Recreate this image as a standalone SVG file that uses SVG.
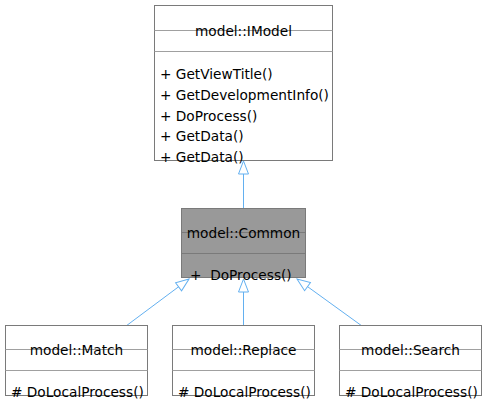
<svg xmlns="http://www.w3.org/2000/svg" width="486" height="400" viewBox="0 0 486 400">
<defs>
<style>
.box{fill:#ffffff;stroke:#7a7a7a;stroke-width:1}
.gbox{fill:#999999;stroke:#7a7a7a;stroke-width:1}
.sep{stroke:#a0a0a0;stroke-width:1;fill:none}
.gsep{stroke:#7a7a7a;stroke-width:1;fill:none}
text{font-family:"DejaVu Sans",Verdana,sans-serif;font-size:13.7px;fill:#000000}
.t{text-anchor:middle}
.edge{stroke:#63b0f0;stroke-width:1;fill:none;marker-end:url(#tri)}
</style>
<marker id="tri" markerUnits="userSpaceOnUse" markerWidth="16" markerHeight="12" viewBox="-14 -6 16 12" refX="0" refY="0" orient="auto">
<path d="M0,0 L-13,-5 L-13,5 Z" fill="#ffffff" stroke="#63b0f0" stroke-width="1"/>
</marker>
</defs>
<g id="connectors">
<path class="edge" d="M243.5,208.5 L243.5,161"/>
<path class="edge" d="M126,326 L189,279"/>
<path class="edge" d="M243.5,326 L243.5,279"/>
<path class="edge" d="M362,326 L297,279"/>
</g>
<g id="IModel">
<rect class="box" x="154.5" y="5.5" width="178" height="155"/>
<line class="sep" x1="154.5" y1="30.5" x2="332.5" y2="30.5"/>
<line class="sep" x1="154.5" y1="51.5" x2="332.5" y2="51.5"/>
<text class="t" x="243.5" y="36">model::IModel</text>
<text x="160" y="78.5">+ GetViewTitle()</text>
<text x="160" y="99.5">+ GetDevelopmentInfo()</text>
<text x="160" y="120.5">+ DoProcess()</text>
<text x="160" y="141">+ GetData()</text>
<text x="160" y="162">+ GetData()</text>
</g>
<g id="Common">
<rect class="gbox" x="181.5" y="208.5" width="124" height="69"/>
<line class="gsep" x1="181.5" y1="232.5" x2="305.5" y2="232.5"/>
<line class="gsep" x1="181.5" y1="253.5" x2="305.5" y2="253.5"/>
<text class="t" x="243.5" y="238">model::Common</text>
<text x="190" y="280" xml:space="preserve">+  DoProcess()</text>
</g>
<g id="Match">
<rect class="box" x="5.5" y="325.5" width="142" height="70"/>
<line class="sep" x1="5.5" y1="349.5" x2="147.5" y2="349.5"/>
<line class="sep" x1="5.5" y1="370.5" x2="147.5" y2="370.5"/>
<text class="t" x="76.5" y="355">model::Match</text>
<text x="11" y="397" xml:space="preserve"># DoLocalProcess()</text>
</g>
<g id="Replace">
<rect class="box" x="172.5" y="325.5" width="142" height="70"/>
<line class="sep" x1="172.5" y1="349.5" x2="314.5" y2="349.5"/>
<line class="sep" x1="172.5" y1="370.5" x2="314.5" y2="370.5"/>
<text class="t" x="243.5" y="355">model::Replace</text>
<text x="178" y="397" xml:space="preserve"># DoLocalProcess()</text>
</g>
<g id="Search">
<rect class="box" x="339.5" y="325.5" width="142" height="70"/>
<line class="sep" x1="339.5" y1="349.5" x2="481.5" y2="349.5"/>
<line class="sep" x1="339.5" y1="370.5" x2="481.5" y2="370.5"/>
<text class="t" x="410.5" y="355">model::Search</text>
<text x="345" y="397" xml:space="preserve"># DoLocalProcess()</text>
</g>
</svg>
